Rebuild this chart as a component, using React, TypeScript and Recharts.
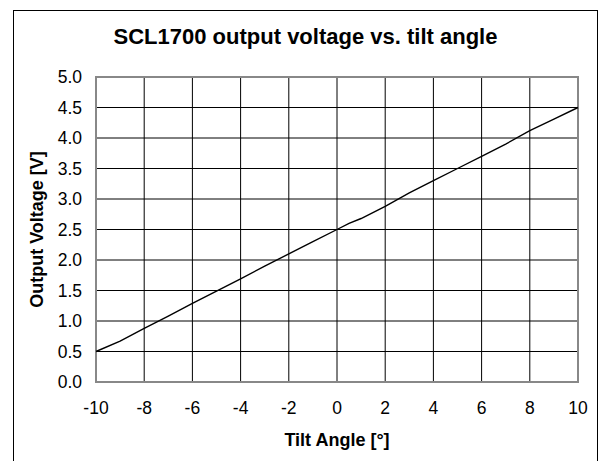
import { CartesianGrid, Line, LineChart, ReferenceArea, XAxis, YAxis } from 'recharts'

const angles = [-10, -9, -8, -7, -6, -5, -4, -3, -2, -1, 0, 0.5, 1, 2, 3, 4, 5, 6, 7, 8, 9, 10]
const voltages = [0.5, 0.67, 0.88, 1.08, 1.29, 1.49, 1.69, 1.9, 2.1, 2.3, 2.5, 2.6, 2.68, 2.88, 3.1, 3.3, 3.5, 3.7, 3.9, 4.12, 4.31, 4.5]
const xTicks = [-10, -8, -6, -4, -2, 0, 2, 4, 6, 8, 10]
const yTicks = [0, 0.5, 1, 1.5, 2, 2.5, 3, 3.5, 4, 4.5, 5]

const title = 'SCL1700 output voltage vs. tilt angle'
const xLabel = 'Tilt Angle [°]'
const yLabel = 'Output Voltage [V]'

const font = 'Liberation Sans, Arial, sans-serif'

export default function App() {
  const data = angles.map((a, i) => ({ angle: a, v: voltages[i] }))

  return (
    <div style={{ position: 'relative', width: 592, height: 453, fontFamily: font }}>
      <div style={{
        position: 'absolute', left: 5, top: 2, width: 585, height: 460,
        border: '1px solid #000', boxSizing: 'border-box',
      }}/>
      <div style={{
        position: 'absolute', left: 5, width: 585, top: 16, textAlign: 'center',
        fontWeight: 'bold', fontSize: 22, color: '#000',
      }}>{title}</div>
      <LineChart data={data} width={592} height={453} margin={{top: 69, right: 22, bottom: 0, left: 0}}
        style={{ position: 'absolute', left: 0, top: 0 }}>
        <CartesianGrid stroke="#000" strokeWidth={1} horizontalValues={yTicks} verticalValues={xTicks}/>
        <XAxis type="number" dataKey="angle" domain={[-10, 10]} ticks={xTicks} axisLine={false}
          height={79} tickLine={false} tickSize={0} tickMargin={20} interval={0}
          tick={{ fill: '#000', fontSize: 17.5, fontFamily: font }}
          label={{ value: xLabel, position: 'insideBottom', offset: 15, fill: '#000', fontSize: 18, fontWeight: 'bold', fontFamily: font }}/>
        <YAxis type="number" domain={[0, 5]} ticks={yTicks} width={88} axisLine={false}
          tickLine={false} tickSize={0} tickMargin={14} interval={0}
          tickFormatter={(v: number) => v.toFixed(1)}
          tick={{ fill: '#000', fontSize: 17.5, fontFamily: font }}
          label={{ value: yLabel, angle: -90, position: 'insideLeft', offset: 29, fill: '#000', fontSize: 18, fontWeight: 'bold', fontFamily: font, style: { textAnchor: 'middle' } }}/>
        <ReferenceArea x1={-10} x2={10} y1={0} y2={5} fill="none" stroke="#888" strokeWidth={2} ifOverflow="visible"/>
        <Line type="linear" dataKey="v" stroke="#000" strokeWidth={1.4} dot={false} isAnimationActive={false}/>
      </LineChart>
    </div>
  )
}
